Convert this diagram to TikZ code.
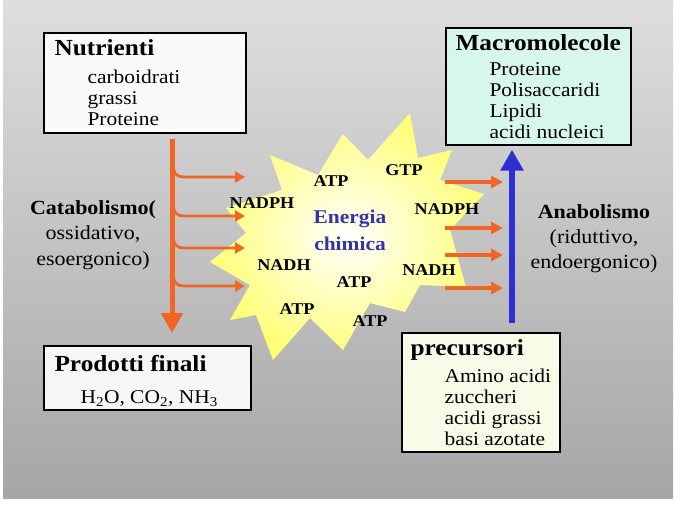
\documentclass[tikz,border=0pt]{standalone}
\usepackage{fontspec}
\setmainfont{Liberation Serif}
\newfontfamily\wideserif[FakeStretch=1.1]{Liberation Serif}
\usepackage{tikz}
\usepackage{xcolor}
\usetikzlibrary{arrows.meta}

\definecolor{bgtop}{RGB}{222,222,222}
\definecolor{bgbot}{RGB}{166,166,166}
\definecolor{catorange}{RGB}{240,102,36}
\definecolor{anablue}{RGB}{48,48,210}
\definecolor{energyblue}{RGB}{51,51,170}
\definecolor{staryellow}{RGB}{255,255,120}
\definecolor{nutrfill}{RGB}{250,250,250}
\definecolor{macrofill}{RGB}{214,246,238}
\definecolor{prodfill}{RGB}{246,246,246}
\definecolor{precfill}{RGB}{250,250,232}

\begin{document}
\begin{tikzpicture}[x=1pt,y=-1pt]
      \useasboundingbox (0,0) rectangle (680,506);
      \tikzset{box/.style = {draw=black, line width=1.6pt, inner sep=0pt, anchor=north west}}
      \tikzset{ttl/.style = {anchor=base west, font=\wideserif\bfseries\fontsize{23}{27}\selectfont}}
      \tikzset{item/.style = {anchor=base west, font=\wideserif\fontsize{19.5}{22}\selectfont}}
      \tikzset{sidebold/.style = {anchor=base, font=\wideserif\bfseries\fontsize{20}{24}\selectfont}}
      \tikzset{sidereg/.style = {anchor=base, font=\wideserif\fontsize{20}{24}\selectfont}}
      \tikzset{mol/.style = {font=\wideserif\bfseries\fontsize{16.5}{19}\selectfont}}
      \tikzset{energy/.style = {anchor=base, text=energyblue, font=\wideserif\bfseries\fontsize{19.5}{23}\selectfont}}
      \tikzset{catmain/.style = {draw=catorange, line width=5pt, -{Triangle[width=21pt,length=20pt]}}}
      \tikzset{branch/.style = {draw=catorange, line width=2.8pt, -{Triangle[width=11pt,length=10pt]}}}
      \tikzset{feed/.style = {draw=catorange, line width=3.6pt, -{Triangle[width=12pt,length=12pt]}}}
      \tikzset{anamain/.style = {draw=anablue, line width=6.5pt, -{Triangle[width=22pt,length=21pt]}}}
      %% background
      \shade[top color=bgtop, bottom color=bgbot] (3,0) rectangle (673,498);
      %% energy star
      \shade[inner color=white, outer color=staryellow]
        (410,113) -- (418,158) -- (452,150) -- (440,180) -- (484,194) -- (450,230)
        -- (466,287) -- (420,285) -- (405,312) -- (370,303) -- (343,350) -- (310,318)
        -- (273,360) -- (256,315) -- (230,320) -- (250,285) -- (210,262) -- (246,233)
        -- (226,208) -- (282,190) -- (270,155) -- (318,175) -- (343,134) -- (368,160) -- cycle;
      %% boxes
      \node[box, fill=nutrfill, minimum width=202pt, minimum height=100pt](nutr) at (43,32) {};
      \node[box, fill=macrofill, minimum width=185pt, minimum height=117pt](macro) at (445,27) {};
      \node[box, fill=prodfill, minimum width=207pt, minimum height=64pt](prod) at (43,345) {};
      \node[box, fill=precfill, minimum width=158pt, minimum height=119pt](prec) at (401,332) {};
      \node[ttl](nutrT) at (51,55) {Nutrienti};
      \node[item](nutr1) at (84,83) {carboidrati};
      \node[item](nutr2) at (84,104) {grassi};
      \node[item](nutr3) at (84,125) {Proteine};
      \node[ttl](macroT) at (452,50) {Macromolecole};
      \node[item](macro1) at (486,75) {Proteine};
      \node[item](macro2) at (486,96) {Polisaccaridi};
      \node[item](macro3) at (486,117) {Lipidi};
      \node[item](macro4) at (486,138) {acidi nucleici};
      \node[ttl](prodT) at (51,371) {Prodotti finali};
      \node[item](prod1) at (77,403) {H\textsubscript{2}O, CO\textsubscript{2}, NH\textsubscript{3}};
      \node[ttl](precT) at (407,355) {precursori};
      \node[item](prec1) at (441,382) {Amino acidi};
      \node[item](prec2) at (441,403) {zuccheri};
      \node[item](prec3) at (441,424) {acidi grassi};
      \node[item](prec4) at (441,445) {basi azotate};
      %% side labels
      \node[sidebold](cat1) at (93,214) {Catabolismo(};
      \node[sidereg](cat2) at (93,239) {ossidativo,};
      \node[sidereg](cat3) at (93,265) {esoergonico)};
      \node[sidebold](ana1) at (594,218) {Anabolismo};
      \node[sidereg](ana2) at (594,243) {(riduttivo,};
      \node[sidereg](ana3) at (594,268) {endoergonico)};
      %% star labels
      \node[energy](en1) at (350,223) {Energia};
      \node[energy](en2) at (350,250) {chimica};
      \node[mol](atp1) at (331,181) {ATP};
      \node[mol](gtp) at (404,170) {GTP};
      \node[mol](nadphL) at (262,203) {NADPH};
      \node[mol](nadphR) at (447,209) {NADPH};
      \node[mol](nadhL) at (284,265) {NADH};
      \node[mol](atp2) at (354,282) {ATP};
      \node[mol](nadhR) at (429,270) {NADH};
      \node[mol](atp3) at (297,309) {ATP};
      \node[mol](atp4) at (370,321) {ATP};
      %% main pathways
      \coordinate (catx) at (172,0);
      \coordinate (anax) at (512,0);
      \draw[catmain, shorten <=5pt, shorten >=12pt] (nutr.south -| catx) -- (prod.north -| catx);
      \draw[anamain, shorten <=9pt, shorten >=4pt] (prec.north -| anax) -- (macro.south -| anax);
      \foreach \i/\y in {1/177,2/216,3/248,4/286}{
        \coordinate (bs\i) at (173,\y-14);
        \coordinate (be\i) at (245,\y);
        \draw[branch] (bs\i) .. controls +(0,11) and +(-7,0) .. ++(11,14) -- (be\i);
      }
      \foreach \i/\y in {1/182,2/228,3/255,4/288}{
        \coordinate (fs\i) at (445,\y);
        \coordinate (fe\i) at (503,\y);
        \draw[feed] (fs\i) -- (fe\i);
      }
\end{tikzpicture}
\end{document}
